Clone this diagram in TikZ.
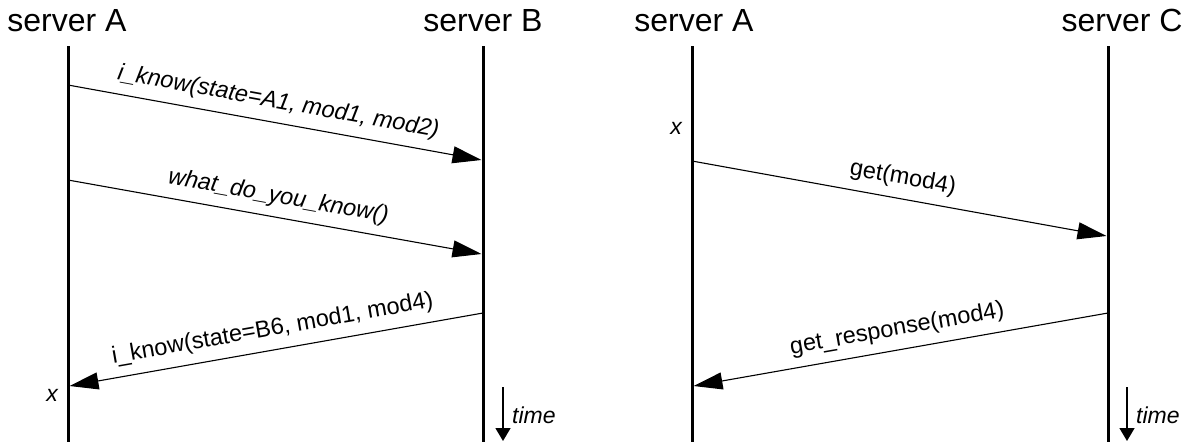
\documentclass[tikz,border=0pt]{standalone}
\usepackage{fontspec}
\setmainfont{Liberation Sans}
\usetikzlibrary{arrows.meta}
\begin{document}
\begin{tikzpicture}[x=1pt,y=-1pt,
  hdr/.style={font=\fontsize{32}{32}\selectfont, anchor=base, inner sep=0pt},
  lifeline/.style={line width=3pt},
  msg/.style={line width=1.1pt, -{Triangle[length=29pt,width=17pt]}},
  lbl/.style={font=\fontsize{23.5}{23.5}\selectfont, inner sep=0pt, sloped, midway, above=9pt},
  note/.style={font=\fontsize{23}{23}\selectfont\itshape, inner sep=0pt},
  timearrow/.style={line width=1.5pt, -{Triangle[length=13pt,width=15pt]}}
]
\useasboundingbox (0,0) rectangle (1182,442);

% ---- left diagram: server A <-> server B ----
\node[hdr] (hA) at (67,31) {server A};
\node[hdr] (hB) at (483,31) {server B};
\coordinate (Atop) at (68,46);  \coordinate (Abot) at (68,442);
\coordinate (Btop) at (483,46); \coordinate (Bbot) at (483,442);
\draw[lifeline] (Atop) -- (Abot);
\draw[lifeline] (Btop) -- (Bbot);

\coordinate (m1s) at (68,85);   \coordinate (m1e) at (481.5,160);
\coordinate (m2s) at (68,180);  \coordinate (m2e) at (481.5,254);
\coordinate (m3s) at (483,313); \coordinate (m3e) at (69.5,386);

\draw[msg] (m1s) -- (m1e) node[lbl] {\itshape i\_know(state=A1, mod1, mod2)};
\draw[msg] (m2s) -- (m2e) node[lbl] {\itshape what\_do\_you\_know()};
\draw[msg] (m3s) -- (m3e) node[lbl] {i\_know(state=B6, mod1, mod4)};

\node[note] (xA) at (52,395) {x};
\coordinate (t1s) at (503,387); \coordinate (t1e) at (503,441);
\draw[timearrow] (t1s) -- (t1e);
\node[note, anchor=west] (time1) at (512,415) {time};

% ---- right diagram: server A <-> server C ----
\node[hdr] (hA2) at (694,31) {server A};
\node[hdr] (hC) at (1122,31) {server C};
\coordinate (A2top) at (692,46);  \coordinate (A2bot) at (692,442);
\coordinate (Ctop) at (1108,46);  \coordinate (Cbot) at (1108,442);
\draw[lifeline] (A2top) -- (A2bot);
\draw[lifeline] (Ctop) -- (Cbot);

\coordinate (m4s) at (692,161);  \coordinate (m4e) at (1106.5,236);
\coordinate (m5s) at (1108,313); \coordinate (m5e) at (693.5,386);

\draw[msg] (m4s) -- (m4e) node[lbl] {get(mod4)};
\draw[msg] (m5s) -- (m5e) node[lbl] {get\_response(mod4)};

\node[note] (xA2) at (676,128) {x};
\coordinate (t2s) at (1127,387); \coordinate (t2e) at (1127,441);
\draw[timearrow] (t2s) -- (t2e);
\node[note, anchor=west] (time2) at (1136,415) {time};
\end{tikzpicture}
\end{document}
